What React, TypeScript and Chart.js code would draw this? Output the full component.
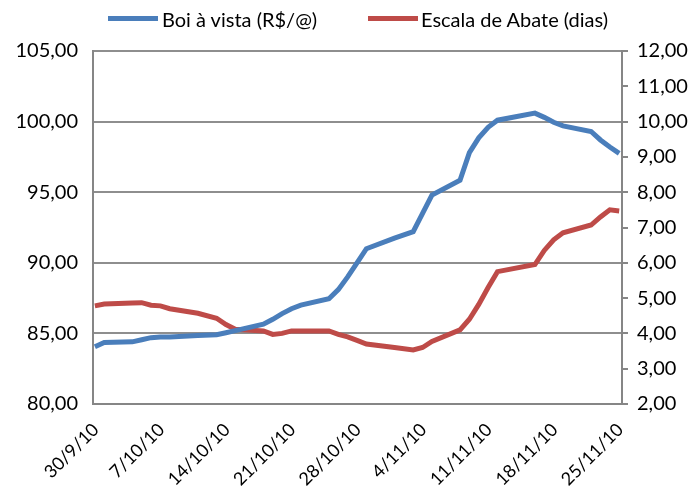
import React, { useEffect, useRef } from 'react';
import { Chart, registerables } from 'chart.js';

Chart.register(...registerables);

// Days since 30/9/10 (trading days)
const dayOffsets = [0, 1, 4, 5, 6, 7, 8, 11, 13, 14, 15, 18, 19, 20, 21, 22, 25, 26, 27, 28, 29, 32, 34, 35, 36, 39, 40, 41, 42, 43, 47, 48, 49, 50, 53, 54, 55, 56];
const boiAVista = [84.05, 84.35, 84.4, 84.55, 84.7, 84.75, 84.75, 84.85, 84.9, 85.05, 85.2, 85.65, 86.0, 86.4, 86.75, 87.0, 87.45, 88.1, 89.0, 90.0, 91.0, 91.75, 92.2, 93.5, 94.8, 95.85, 97.8, 98.85, 99.6, 100.1, 100.6, 100.3, 99.95, 99.7, 99.3, 98.7, 98.2, 97.75];
const escalaAbate = [4.78, 4.83, 4.86, 4.87, 4.8, 4.78, 4.7, 4.57, 4.43, 4.25, 4.12, 4.07, 3.97, 4.0, 4.07, 4.07, 4.07, 3.97, 3.9, 3.8, 3.7, 3.6, 3.53, 3.6, 3.77, 4.1, 4.4, 4.82, 5.3, 5.75, 5.95, 6.35, 6.65, 6.85, 7.07, 7.3, 7.5, 7.47];

const xTickDays = [0, 7, 14, 21, 28, 35, 42, 49, 56];
const xTickLabels = ['30/9/10', '7/10/10', '14/10/10', '21/10/10', '28/10/10', '4/11/10', '11/11/10', '18/11/10', '25/11/10'];

const seriesNames = ['Boi à vista (R$/@)', 'Escala de Abate (dias)'];
const BLUE = '#4a7ebb';
const RED = '#be4b48';
const FONT = 'Lato, "DejaVu Sans", sans-serif';
const FS = 20;

const fmt = (v: number) => v.toFixed(2).replace('.', ',');

export default function App() {
  const ref = useRef<HTMLCanvasElement | null>(null);

  useEffect(() => {
    if (!ref.current) return;
    const chart = new Chart(ref.current, {
      type: 'line',
      data: {
        datasets: [
          {
            label: seriesNames[0],
            data: dayOffsets.map((d, i) => ({ x: d, y: boiAVista[i] })),
            borderColor: BLUE,
            backgroundColor: BLUE,
            borderWidth: 5,
            pointRadius: 0,
            tension: 0,
            yAxisID: 'y',
          },
          {
            label: seriesNames[1],
            data: dayOffsets.map((d, i) => ({ x: d, y: escalaAbate[i] })),
            borderColor: RED,
            backgroundColor: RED,
            borderWidth: 5,
            pointRadius: 0,
            tension: 0,
            yAxisID: 'y1',
          },
        ],
      },
      options: {
        responsive: false,
        animation: false,
        layout: { padding: { top: 43, left: 0, right: 0, bottom: 0 } },
        plugins: { legend: { display: false }, tooltip: { enabled: false } },
        scales: {
          x: {
            type: 'linear',
            min: -0.2,
            max: 56.3,
            afterBuildTicks: (s: any) => {
              s.ticks = xTickDays.map((v) => ({ value: v }));
            },
            afterFit: (s: any) => {
              s.height = 87;
            },
            ticks: {
              autoSkip: false,
              minRotation: 45,
              maxRotation: 45,
              padding: 15,
              labelOffset: 1,
              color: '#000',
              font: { family: FONT, size: 18 },
              callback: (v: any) => {
                const i = xTickDays.indexOf(Number(v));
                return i >= 0 ? xTickLabels[i] : '';
              },
            },
            grid: { display: true, drawOnChartArea: false, drawTicks: false, color: '#868686' },
            border: { display: true, color: '#868686', width: 2 },
          },
          y: {
            position: 'left',
            min: 80,
            max: 105,
            afterBuildTicks: (s: any) => {
              s.ticks = [80, 85, 90, 95, 100, 105].map((v) => ({ value: v }));
            },
            afterFit: (s: any) => {
              s.width = 85;
            },
            ticks: {
              padding: 15,
              color: '#000',
              font: { family: FONT, size: FS },
              callback: (v: any) => fmt(Number(v)),
            },
            grid: { color: '#8e8e8e', lineWidth: 2, drawTicks: false },
            border: { display: true, color: '#868686', width: 2 },
          },
          y1: {
            position: 'right',
            min: 2,
            max: 12,
            afterBuildTicks: (s: any) => {
              s.ticks = [2, 3, 4, 5, 6, 7, 8, 9, 10, 11, 12].map((v) => ({ value: v }));
            },
            afterFit: (s: any) => {
              s.width = 67;
            },
            ticks: {
              padding: 9,
              color: '#000',
              font: { family: FONT, size: FS },
              callback: (v: any) => fmt(Number(v)),
            },
            grid: { drawOnChartArea: false, drawTicks: true, tickLength: 6, color: '#868686', lineWidth: 2 },
            border: { display: true, color: '#868686', width: 2 },
          },
        },
      },
    });
    return () => chart.destroy();
  }, []);

  const legendText: React.CSSProperties = {
    position: 'absolute',
    top: 0,
    fontFamily: FONT,
    fontSize: FS,
    lineHeight: '22px',
    color: '#000',
    whiteSpace: 'nowrap',
  };
  const swatch = (left: number, color: string): React.CSSProperties => ({
    position: 'absolute',
    left,
    top: 8,
    width: 50,
    height: 5,
    background: color,
  });

  return (
    <div style={{ position: 'relative', width: 681, height: 483 }}>
      <canvas ref={ref} width={681} height={483} style={{ display: 'block' }} />
      <div style={swatch(100, BLUE)} />
      <div style={{ ...legendText, left: 154 }}>{seriesNames[0]}</div>
      <div style={swatch(360, RED)} />
      <div style={{ ...legendText, left: 413 }}>{seriesNames[1]}</div>
    </div>
  );
}
